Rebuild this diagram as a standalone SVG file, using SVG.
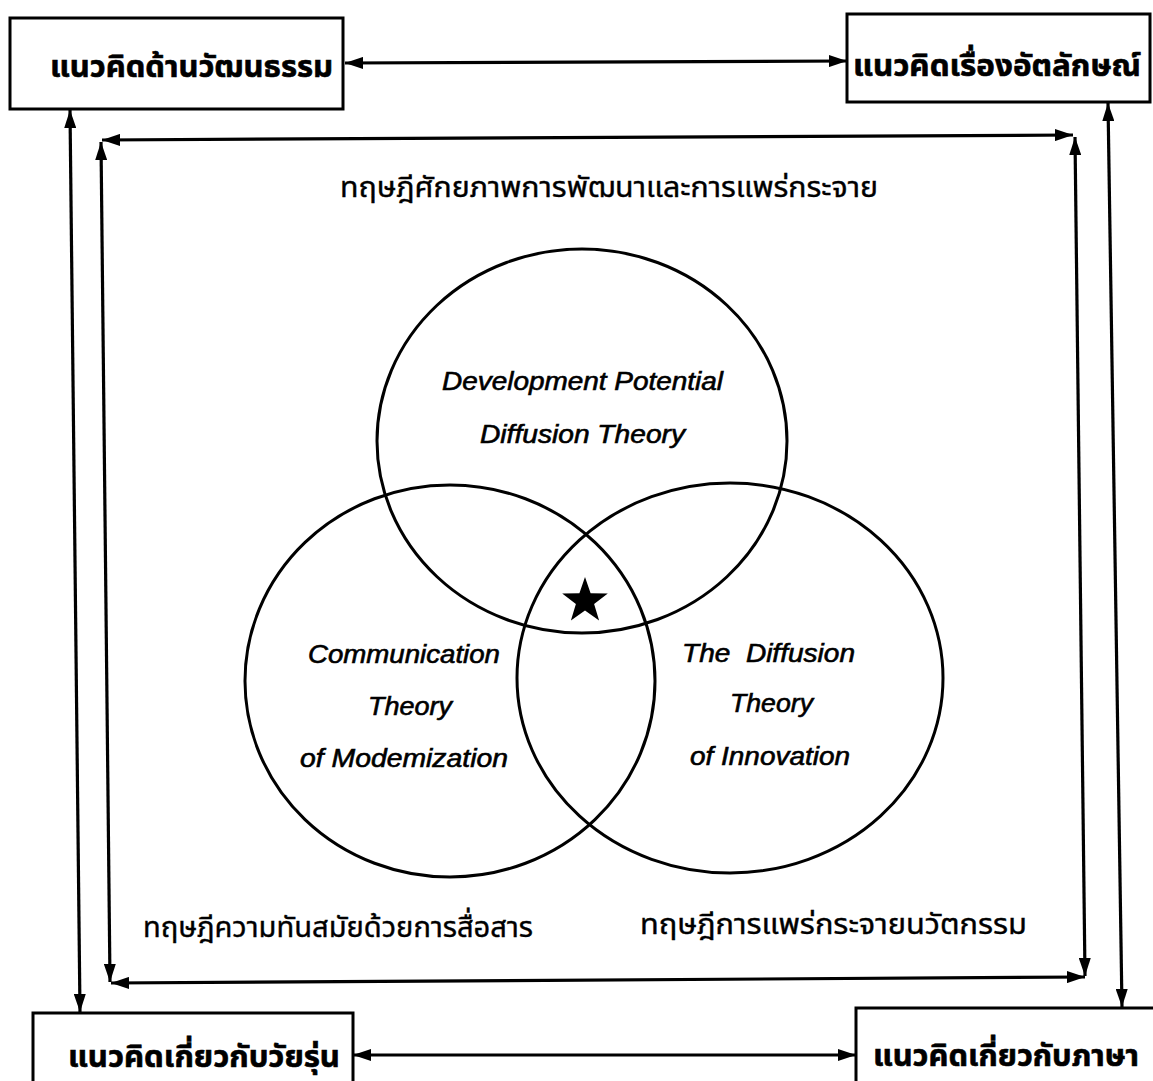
<svg xmlns="http://www.w3.org/2000/svg" width="1153" height="1081" viewBox="0 0 1153 1081">
<style>
.box{fill:#fff;stroke:#000;stroke-width:3}
.circ{fill:none;stroke:#000;stroke-width:3}
.con{stroke:#000;stroke-width:3.2;fill:none}
.bt{font-family:"Noto Sans Thai","Noto Sans","Liberation Sans","DejaVu Sans",sans-serif;font-weight:bold;font-size:30px;fill:#000;stroke:#000;stroke-width:0.6}
.tt{font-family:"Noto Sans Thai","Noto Sans","Liberation Sans","DejaVu Sans",sans-serif;font-size:29px;fill:#000;stroke:#000;stroke-width:0.4}
.et{font-family:"Liberation Sans",Arial,sans-serif;font-style:italic;font-size:25px;fill:#000;stroke:#000;stroke-width:0.6}
</style>
<defs>
<marker id="ah" viewBox="0 0 18 12" markerWidth="18" markerHeight="12" refX="18" refY="6" orient="auto-start-reverse" markerUnits="userSpaceOnUse">
<path d="M0,0 L18,6 L0,12 z" fill="#000"/>
</marker>
</defs>
<rect width="1153" height="1081" fill="#fff"/>
<g id="connectors">
<line class="con" x1="345" y1="63" x2="847" y2="61" marker-start="url(#ah)" marker-end="url(#ah)"/>
<line class="con" x1="353" y1="1055" x2="856" y2="1055" marker-start="url(#ah)" marker-end="url(#ah)"/>
<line class="con" x1="70" y1="110" x2="80" y2="1012" marker-start="url(#ah)" marker-end="url(#ah)"/>
<line class="con" x1="1108" y1="103" x2="1122" y2="1007" marker-start="url(#ah)" marker-end="url(#ah)"/>
<line class="con" x1="102" y1="140" x2="1073" y2="135" marker-start="url(#ah)" marker-end="url(#ah)"/>
<line class="con" x1="1075" y1="137" x2="1085" y2="976" marker-start="url(#ah)" marker-end="url(#ah)"/>
<line class="con" x1="111" y1="983" x2="1085" y2="977" marker-start="url(#ah)" marker-end="url(#ah)"/>
<line class="con" x1="101" y1="142" x2="110" y2="982" marker-start="url(#ah)" marker-end="url(#ah)"/>
</g>
<g id="box-culture">
<rect class="box" x="10" y="18" width="333" height="91"/>
<text class="bt" x="50" y="77" textLength="283" lengthAdjust="spacingAndGlyphs">แนวคิดด้านวัฒนธรรม</text>
</g>
<g id="box-identity">
<rect class="box" x="847" y="14" width="303" height="88"/>
<text class="bt" x="853" y="76" textLength="288" lengthAdjust="spacingAndGlyphs">แนวคิดเรื่องอัตลักษณ์</text>
</g>
<g id="box-youth">
<rect class="box" x="33" y="1013" width="320" height="90"/>
<text class="bt" x="68" y="1067" textLength="272" lengthAdjust="spacingAndGlyphs">แนวคิดเกี่ยวกับวัยรุ่น</text>
</g>
<g id="box-language">
<rect class="box" x="856" y="1008" width="320" height="90"/>
<text class="bt" x="873" y="1066" textLength="266" lengthAdjust="spacingAndGlyphs">แนวคิดเกี่ยวกับภาษา</text>
</g>
<g id="frame-labels">
<text class="tt" x="340" y="197" textLength="538" lengthAdjust="spacingAndGlyphs">ทฤษฎีศักยภาพการพัฒนาและการแพร่กระจาย</text>
<text class="tt" x="143" y="937" textLength="390" lengthAdjust="spacingAndGlyphs">ทฤษฎีความทันสมัยด้วยการสื่อสาร</text>
<text class="tt" x="640" y="934" textLength="387" lengthAdjust="spacingAndGlyphs">ทฤษฎีการแพร่กระจายนวัตกรรม</text>
</g>
<g id="circle-development">
<ellipse class="circ" cx="582" cy="441" rx="205" ry="192"/>
<text class="et" x="442" y="390" textLength="281" lengthAdjust="spacingAndGlyphs">Development Potential</text>
<text class="et" x="480" y="443" textLength="205" lengthAdjust="spacingAndGlyphs">Diffusion Theory</text>
</g>
<g id="circle-communication">
<ellipse class="circ" cx="450" cy="681" rx="205" ry="196"/>
<text class="et" x="308" y="663" textLength="192" lengthAdjust="spacingAndGlyphs">Communication</text>
<text class="et" x="368" y="715" textLength="84" lengthAdjust="spacingAndGlyphs">Theory</text>
<text class="et" x="300" y="767" textLength="208" lengthAdjust="spacingAndGlyphs">of Modemization</text>
</g>
<g id="circle-innovation">
<ellipse class="circ" cx="730" cy="678" rx="213" ry="195"/>
<text class="et" x="682" y="662" textLength="173" lengthAdjust="spacingAndGlyphs" xml:space="preserve">The  Diffusion</text>
<text class="et" x="730" y="712" textLength="83" lengthAdjust="spacingAndGlyphs">Theory</text>
<text class="et" x="690" y="765" textLength="160" lengthAdjust="spacingAndGlyphs">of Innovation</text>
</g>
<g id="star">
<polygon fill="#000" points="585,577 590.6,593.2 607.8,593.6 594.1,604 599.1,620.4 585,610.6 570.9,620.4 575.9,604 562.2,593.6 579.4,593.2"/>
</g>
</svg>
